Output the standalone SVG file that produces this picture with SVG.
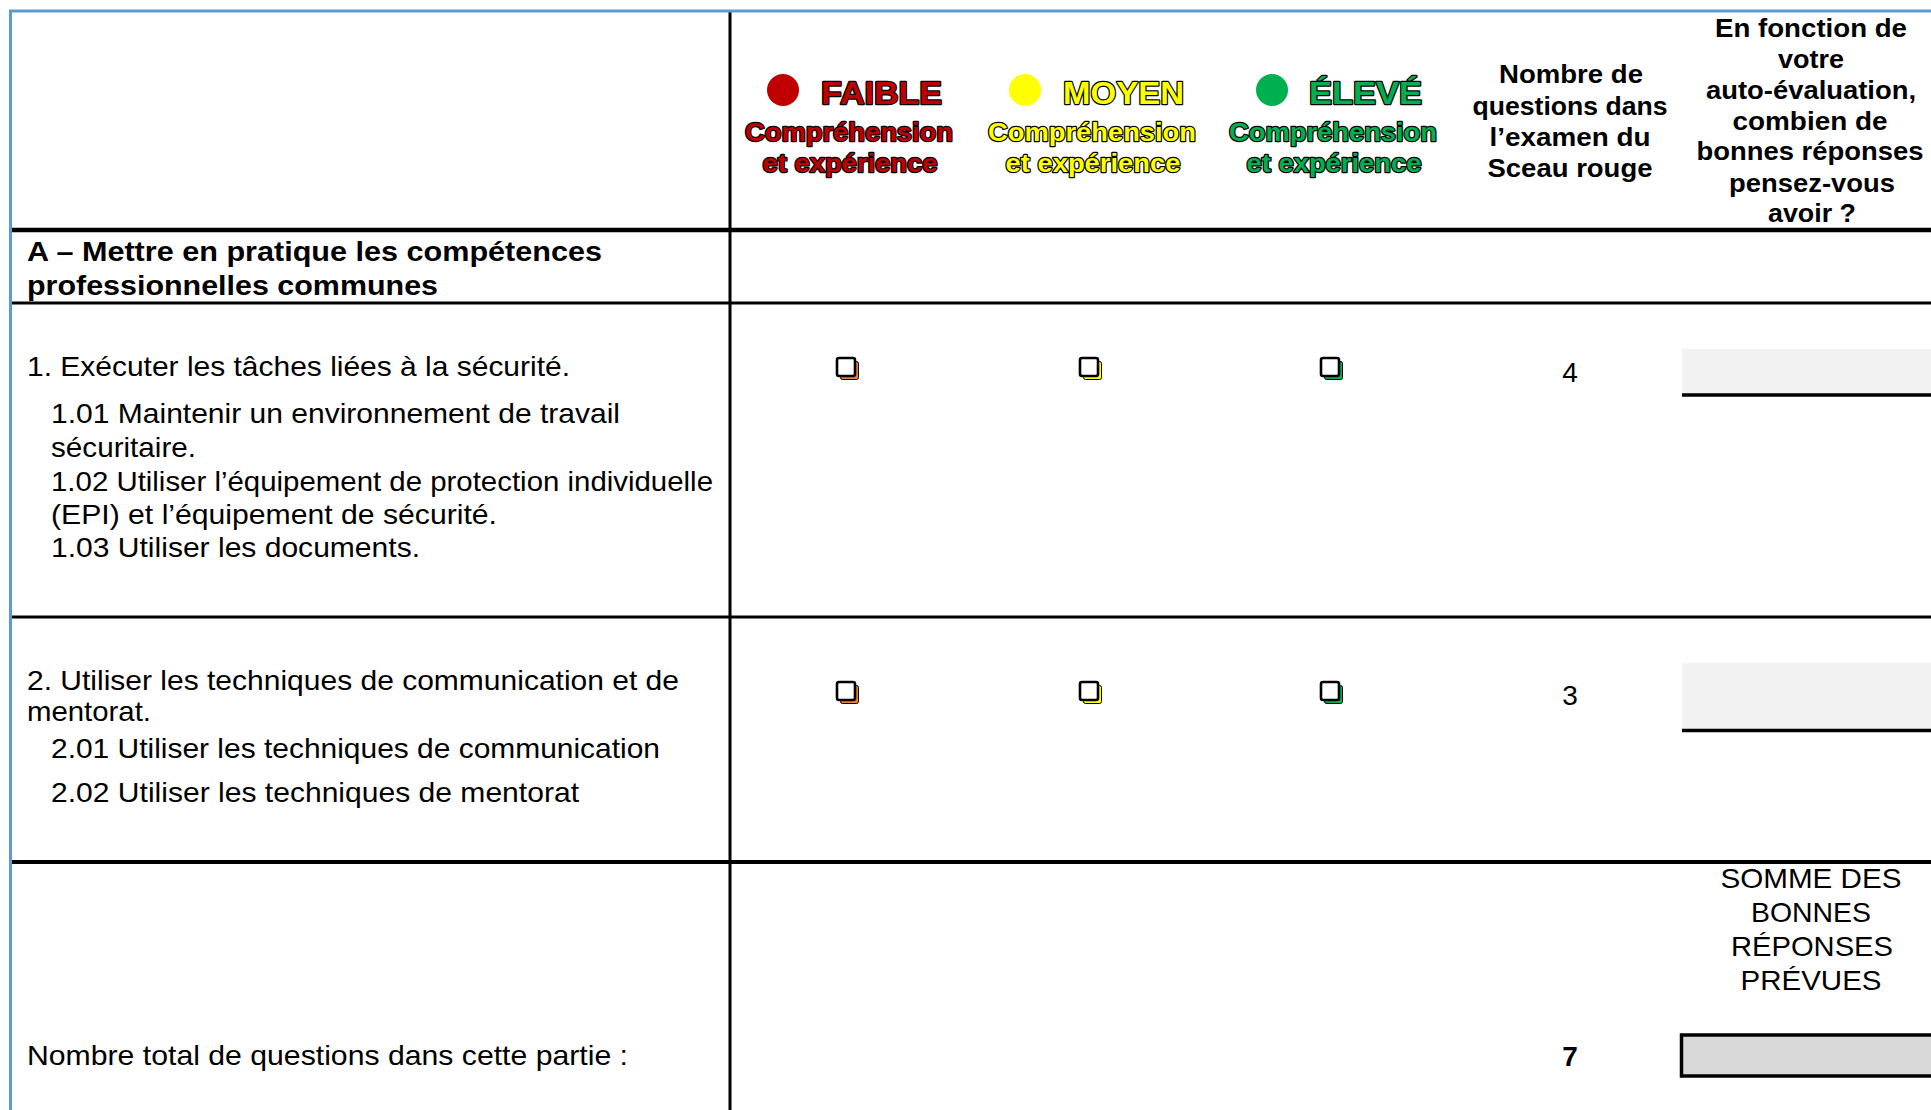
<svg xmlns="http://www.w3.org/2000/svg" width="1931" height="1110" viewBox="0 0 1931 1110">
<style>
text{font-family:"Liberation Sans",Arial,sans-serif;fill:#000}
.b{font-weight:bold}
.h{font-size:26px;font-weight:bold;text-anchor:middle}
.t{font-size:28px}
.c{text-anchor:middle}
.lvl{font-weight:bold;stroke:#000;stroke-width:2.4px;paint-order:stroke;stroke-linejoin:round}
.big{font-size:32px}
.sub{font-size:26px;text-anchor:middle}
.grid{stroke:#000;fill:none}
.cbm{fill:#fff;stroke:#000;stroke-width:2.6}
.cbs{stroke:#000;stroke-width:1}
.gbox{fill:#f2f2f2}
</style>
<defs>
<g id="cb-o"><rect class="cbs" x="3.5" y="3.5" width="18" height="18" rx="2" fill="#ed7d31"/><rect class="cbm" x="0" y="0" width="18" height="18" rx="2"/></g>
<g id="cb-y"><rect class="cbs" x="3.5" y="3.5" width="18" height="18" rx="2" fill="#ffff00"/><rect class="cbm" x="0" y="0" width="18" height="18" rx="2"/></g>
<g id="cb-g"><rect class="cbs" x="3.5" y="3.5" width="18" height="18" rx="2" fill="#00b050"/><rect class="cbm" x="0" y="0" width="18" height="18" rx="2"/></g>
</defs>
<rect x="0" y="0" width="1931" height="1110" fill="#fff"/>

<g id="grid">
<line class="grid" x1="730" y1="12" x2="730" y2="1110" stroke-width="3"/>
<line class="grid" x1="10" y1="230" x2="1931" y2="230" stroke-width="4.5"/>
<line class="grid" x1="10" y1="303" x2="1931" y2="303" stroke-width="3"/>
<line class="grid" x1="10" y1="617" x2="1931" y2="617" stroke-width="3"/>
<line class="grid" x1="10" y1="862" x2="1931" y2="862" stroke-width="4"/>
<line x1="9" y1="11" x2="1931" y2="11" stroke="#5b9bd5" stroke-width="3"/>
<line x1="10.5" y1="10" x2="10.5" y2="1110" stroke="#5b9bd5" stroke-width="3"/>
</g>

<g id="header-faible">
<circle cx="783" cy="90" r="16" fill="#c00000"/>
<text class="lvl big" x="821" y="104" textLength="121" lengthAdjust="spacingAndGlyphs" style="fill:#c00000">FAIBLE</text>
<text class="lvl sub" x="849" y="141" textLength="208" lengthAdjust="spacingAndGlyphs" style="fill:#c00000">Compréhension</text>
<text class="lvl sub" x="850" y="172" textLength="175" lengthAdjust="spacingAndGlyphs" style="fill:#c00000">et expérience</text>
</g>
<g id="header-moyen">
<circle cx="1025" cy="90" r="16" fill="#ffff00"/>
<text class="lvl big" x="1063" y="104" textLength="121" lengthAdjust="spacingAndGlyphs" style="fill:#ffff00">MOYEN</text>
<text class="lvl sub" x="1092" y="141" textLength="208" lengthAdjust="spacingAndGlyphs" style="fill:#ffff00">Compréhension</text>
<text class="lvl sub" x="1093" y="172" textLength="175" lengthAdjust="spacingAndGlyphs" style="fill:#ffff00">et expérience</text>
</g>
<g id="header-eleve">
<circle cx="1272" cy="90" r="16" fill="#00b050"/>
<text class="lvl big" x="1309" y="104" textLength="113" lengthAdjust="spacingAndGlyphs" style="fill:#00b050">ÉLEVÉ</text>
<text class="lvl sub" x="1333" y="141" textLength="208" lengthAdjust="spacingAndGlyphs" style="fill:#00b050">Compréhension</text>
<text class="lvl sub" x="1334" y="172" textLength="175" lengthAdjust="spacingAndGlyphs" style="fill:#00b050">et expérience</text>
</g>
<g id="header-nombre">
<text class="h" x="1571" y="83" textLength="144" lengthAdjust="spacingAndGlyphs">Nombre de</text>
<text class="h" x="1570" y="115" textLength="195" lengthAdjust="spacingAndGlyphs">questions dans</text>
<text class="h" x="1570" y="146" textLength="161" lengthAdjust="spacingAndGlyphs">l’examen du</text>
<text class="h" x="1570" y="177" textLength="165" lengthAdjust="spacingAndGlyphs">Sceau rouge</text>
</g>
<g id="header-auto">
<text class="h" x="1811" y="37" textLength="192" lengthAdjust="spacingAndGlyphs">En fonction de</text>
<text class="h" x="1811" y="68" textLength="66" lengthAdjust="spacingAndGlyphs">votre</text>
<text class="h" x="1811" y="99" textLength="210" lengthAdjust="spacingAndGlyphs">auto-évaluation,</text>
<text class="h" x="1810" y="130" textLength="155" lengthAdjust="spacingAndGlyphs">combien de</text>
<text class="h" x="1810" y="160" textLength="227" lengthAdjust="spacingAndGlyphs">bonnes réponses</text>
<text class="h" x="1812" y="192" textLength="166" lengthAdjust="spacingAndGlyphs">pensez-vous</text>
<text class="h" x="1812" y="222" textLength="88" lengthAdjust="spacingAndGlyphs">avoir ?</text>
</g>

<g id="section-a">
<text class="t b" x="27" y="261" textLength="575" lengthAdjust="spacingAndGlyphs">A – Mettre en pratique les compétences</text>
<text class="t b" x="27" y="295" textLength="411" lengthAdjust="spacingAndGlyphs">professionnelles communes</text>
</g>

<g id="row-1">
<text class="t" x="27" y="376" textLength="543" lengthAdjust="spacingAndGlyphs">1. Exécuter les tâches liées à la sécurité.</text>
<text class="t" x="51" y="423" textLength="569" lengthAdjust="spacingAndGlyphs">1.01 Maintenir un environnement de travail</text>
<text class="t" x="51" y="457" textLength="145" lengthAdjust="spacingAndGlyphs">sécuritaire.</text>
<text class="t" x="51" y="491" textLength="662" lengthAdjust="spacingAndGlyphs">1.02 Utiliser l’équipement de protection individuelle</text>
<text class="t" x="51" y="524" textLength="446" lengthAdjust="spacingAndGlyphs">(EPI) et l’équipement de sécurité.</text>
<text class="t" x="51" y="557" textLength="369" lengthAdjust="spacingAndGlyphs">1.03 Utiliser les documents.</text>
<use href="#cb-o" x="837" y="358"/>
<use href="#cb-y" x="1080" y="358"/>
<use href="#cb-g" x="1321" y="358"/>
<text class="t c" x="1570" y="382">4</text>
<rect class="gbox" x="1682" y="349" width="249" height="45"/>
<line x1="1682" y1="395" x2="1931" y2="395" stroke="#000" stroke-width="3.5"/>
</g>

<g id="row-2">
<text class="t" x="27" y="690" textLength="652" lengthAdjust="spacingAndGlyphs">2. Utiliser les techniques de communication et de</text>
<text class="t" x="27" y="721" textLength="124" lengthAdjust="spacingAndGlyphs">mentorat.</text>
<text class="t" x="51" y="758" textLength="609" lengthAdjust="spacingAndGlyphs">2.01 Utiliser les techniques de communication</text>
<text class="t" x="51" y="802" textLength="528" lengthAdjust="spacingAndGlyphs">2.02 Utiliser les techniques de mentorat</text>
<use href="#cb-o" x="837" y="682"/>
<use href="#cb-y" x="1080" y="682"/>
<use href="#cb-g" x="1321" y="682"/>
<text class="t c" x="1570" y="705">3</text>
<rect class="gbox" x="1682" y="663" width="249" height="66"/>
<line x1="1682" y1="730.5" x2="1931" y2="730.5" stroke="#000" stroke-width="3.5"/>
</g>

<g id="total">
<text class="t" x="27" y="1065" textLength="601" lengthAdjust="spacingAndGlyphs">Nombre total de questions dans cette partie :</text>
<text class="t b c" x="1570" y="1066">7</text>
<text class="t c" x="1811" y="888" textLength="181" lengthAdjust="spacingAndGlyphs">SOMME DES</text>
<text class="t c" x="1811" y="922" textLength="120" lengthAdjust="spacingAndGlyphs">BONNES</text>
<text class="t c" x="1812" y="956" textLength="162" lengthAdjust="spacingAndGlyphs">RÉPONSES</text>
<text class="t c" x="1811" y="990" textLength="141" lengthAdjust="spacingAndGlyphs">PRÉVUES</text>
<rect x="1681.5" y="1035" width="252" height="41" fill="#d9d9d9" stroke="#000" stroke-width="3.5"/>
</g>
</svg>
